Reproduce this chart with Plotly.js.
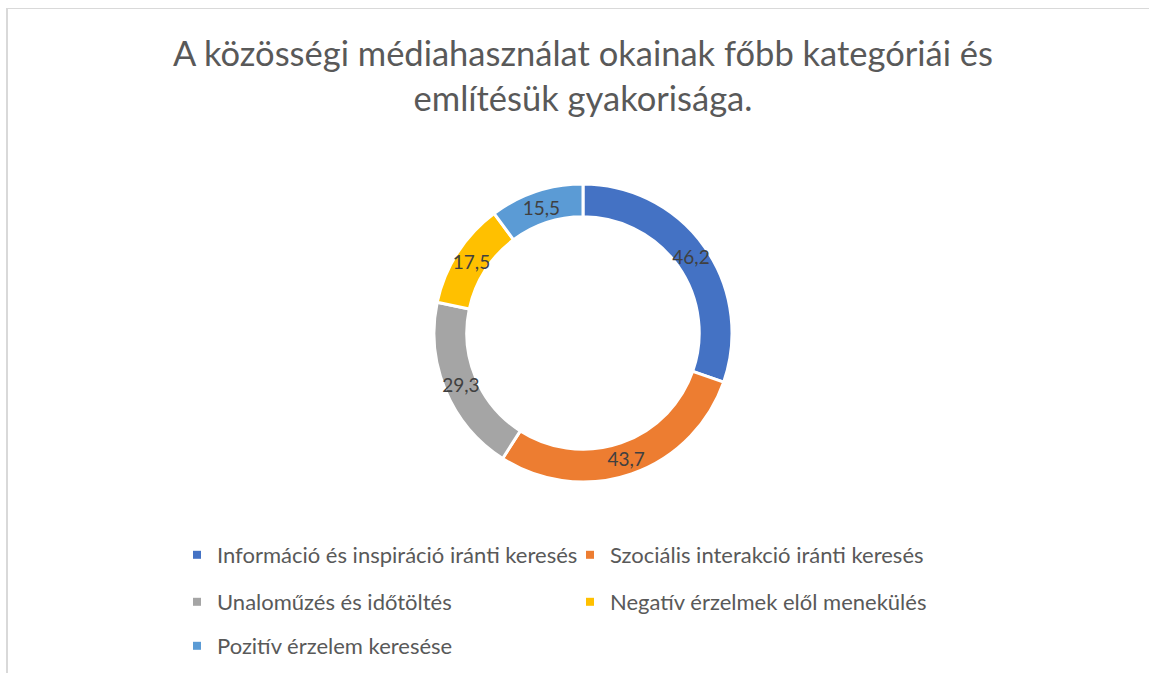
<!DOCTYPE html>
<html>
<head>
<meta charset="utf-8">
<script src="https://cdn.plot.ly/plotly-3.0.1.min.js"></script>
<style>html,body{margin:0;padding:0;background:#fff;}#chart{width:1149px;height:673px;}</style>
</head>
<body>
<div id="chart"></div>
<script>
const categories = [
  "Információ és inspiráció iránti keresés",
  "Szociális interakció iránti keresés",
  "Unaloműzés és időtöltés",
  "Negatív érzelmek elől menekülés",
  "Pozitív érzelem keresése"
];
const values = [46.2, 43.7, 29.3, 17.5, 15.5];
const labelsText = ["46,2", "43,7", "29,3", "17,5", "15,5"];
const colors = ["#4472C4", "#ED7D31", "#A5A5A5", "#FFC000", "#5B9BD5"];

const W = 1149, H = 673;
const cx = 583, cy = 333, R = 149, RL = 172;
const FONT = "Lato, 'Open Sans', sans-serif";

const legendIds = ["legend", "legend2", "legend3", "legend4", "legend5"];
const legendPos = [[177, 555], [570, 555], [177, 602], [570, 602], [177, 646]];

function dom(r) {
  return {x: [(cx - r) / W, (cx + r) / W], y: [(H - cy - r) / H, (H - cy + r) / H]};
}

const traces = [{
  // the visible doughnut ring
  type: "pie",
  labels: categories,
  values: values,
  textinfo: "none",
  hole: 0.78,
  sort: false,
  direction: "clockwise",
  rotation: 0,
  marker: {colors: colors, line: {color: "#ffffff", width: 3}},
  showlegend: false,
  domain: dom(R),
  hoverinfo: "label+value"
}, {
  // transparent carrier for the data labels (wider band so labels keep full size)
  type: "pie",
  labels: categories,
  values: values,
  text: labelsText,
  textinfo: "text",
  textposition: "inside",
  insidetextorientation: "horizontal",
  hole: 0.54,
  sort: false,
  direction: "clockwise",
  rotation: 0,
  marker: {colors: colors.map(() => "rgba(0,0,0,0)"), line: {width: 0}},
  textfont: {family: FONT, size: 19, color: "#404040"},
  insidetextfont: {family: FONT, size: 19, color: "#404040"},
  showlegend: false,
  domain: dom(RL),
  hoverinfo: "skip"
}];

categories.forEach((c, i) => {
  traces.push({
    type: "scatter", mode: "markers", x: [null], y: [null], name: c,
    marker: {symbol: "square", size: 8, color: colors[i]},
    legend: legendIds[i], showlegend: true, hoverinfo: "skip"
  });
});

const layout = {
  width: W, height: H,
  margin: {l: 0, r: 0, t: 0, b: 0},
  paper_bgcolor: "#ffffff", plot_bgcolor: "#ffffff",
  title: {
    text: "A közösségi médiahasználat okainak főbb kategóriái és<br>említésük gyakorisága.",
    font: {family: FONT, size: 34.5, color: "#595959"},
    x: 583 / W, xanchor: "center", y: 1 - 66 / H, yanchor: "middle"
  },
  xaxis: {visible: false}, yaxis: {visible: false},
  shapes: [
    {type: "line", xref: "paper", yref: "paper", x0: 6.5 / W, x1: 1, y0: 1 - 8.5 / H, y1: 1 - 8.5 / H, line: {color: "#D9D9D9", width: 1}},
    {type: "line", xref: "paper", yref: "paper", x0: 7 / W, x1: 7 / W, y0: 0, y1: 1 - 8 / H, line: {color: "#D9D9D9", width: 2}}
  ]
};
legendIds.forEach((id, i) => {
  layout[id] = {
    x: legendPos[i][0] / W, y: 1 - legendPos[i][1] / H,
    xanchor: "left", yanchor: "middle",
    orientation: "h", itemwidth: 30,
    bgcolor: "rgba(0,0,0,0)",
    font: {family: FONT, size: 22, color: "#595959"}
  };
});

Plotly.newPlot("chart", traces, layout, {displayModeBar: false, staticPlot: true});
</script>
</body>
</html>
